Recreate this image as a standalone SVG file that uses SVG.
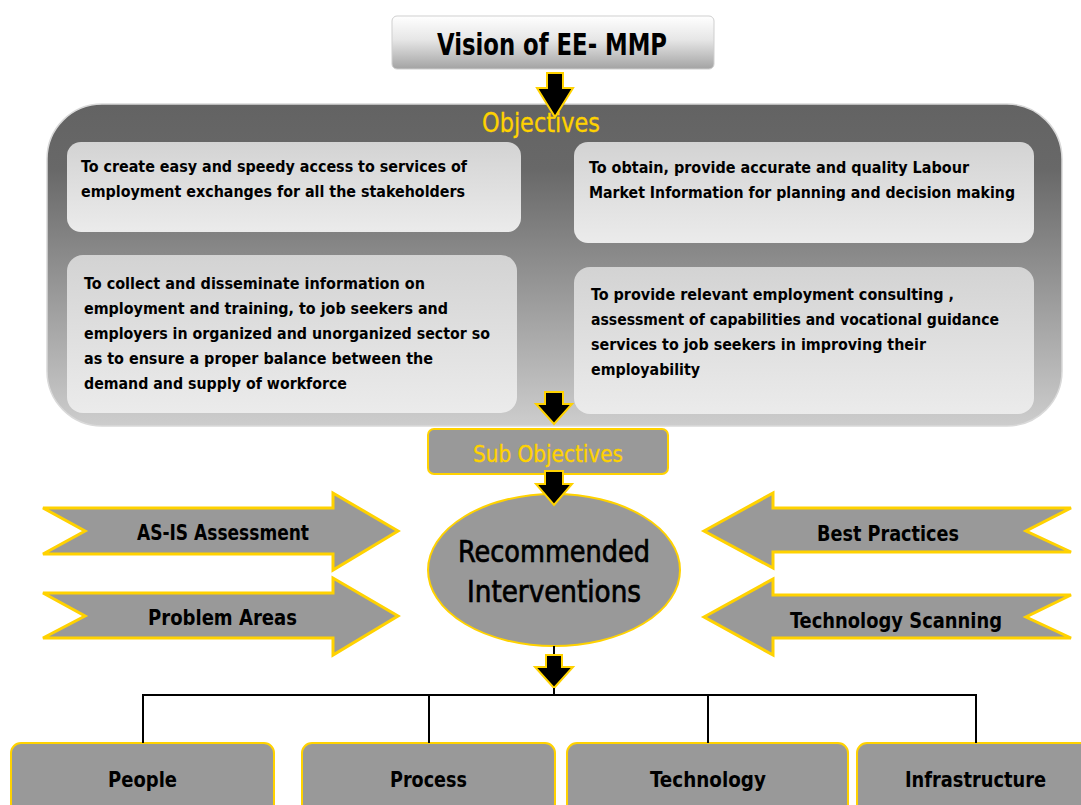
<svg xmlns="http://www.w3.org/2000/svg" width="1081" height="805" viewBox="0 0 1081 805">
<defs>
<linearGradient id="gVision" x1="0" y1="0" x2="0" y2="1">
<stop offset="0" stop-color="#ffffff"/><stop offset="0.45" stop-color="#e6e6e6"/><stop offset="1" stop-color="#a3a3a3"/>
</linearGradient>
<linearGradient id="gPanel" x1="0" y1="0" x2="0" y2="1">
<stop offset="0" stop-color="#636363"/><stop offset="0.2" stop-color="#686868"/><stop offset="1" stop-color="#cdcdcd"/>
</linearGradient>
<linearGradient id="gBox" x1="0" y1="0" x2="0" y2="1">
<stop offset="0" stop-color="#d3d3d3"/><stop offset="1" stop-color="#ebebeb"/>
</linearGradient>
<style>
.t{font-family:"DejaVu Sans Condensed","DejaVu Sans",sans-serif;font-stretch:condensed;font-weight:bold;fill:#000}
.r{font-family:"DejaVu Sans Condensed","DejaVu Sans",sans-serif;font-stretch:condensed;fill:#000;stroke:#000;stroke-width:0.7}
.y{font-family:"DejaVu Sans Condensed","DejaVu Sans",sans-serif;font-stretch:condensed;fill:#ffd200;stroke:#ffd200;stroke-width:0.3}
.b{font-size:16.5px}
.g{fill:#999999;stroke:#ffd200;stroke-width:2}
.ga{fill:#999999;stroke:#ffd200;stroke-width:3;stroke-linejoin:miter}
.ib{fill:url(#gBox)}
.arr{fill:#000;stroke:#ffd200;stroke-width:2;stroke-linejoin:miter}
.ln{stroke:#000;stroke-width:2;fill:none}
</style>
</defs>

<g id="vision">
<rect x="392" y="16" width="322" height="53" rx="5" fill="url(#gVision)" stroke="#cfcfcf" stroke-width="1"/>
<text class="t" x="437" y="55" font-size="30" textLength="230" lengthAdjust="spacingAndGlyphs">Vision of EE- MMP</text>
</g>

<g id="objectives">
<rect x="47" y="104" width="1015" height="322" rx="55" fill="url(#gPanel)" stroke="#d9d9d9" stroke-width="1.5"/>
<text class="y" x="482" y="132" font-size="27" textLength="118" lengthAdjust="spacingAndGlyphs">Objectives</text>
</g>

<g id="obj1">
<rect class="ib" x="67" y="142" width="454" height="90" rx="14"/>
<text class="t b" x="81" y="172" textLength="386" lengthAdjust="spacingAndGlyphs">To create easy and speedy access to services of</text>
<text class="t b" x="81" y="197" textLength="384" lengthAdjust="spacingAndGlyphs">employment exchanges for all the stakeholders</text>
</g>

<g id="obj2">
<rect class="ib" x="574" y="142" width="460" height="101" rx="14"/>
<text class="t b" x="589" y="173" textLength="380" lengthAdjust="spacingAndGlyphs">To obtain, provide accurate and quality Labour</text>
<text class="t b" x="589" y="198" textLength="426" lengthAdjust="spacingAndGlyphs">Market Information for planning and decision making</text>
</g>

<g id="obj3">
<rect class="ib" x="67" y="255" width="450" height="158" rx="16"/>
<text class="t b" x="84" y="289" textLength="341" lengthAdjust="spacingAndGlyphs">To collect and disseminate information on</text>
<text class="t b" x="84" y="314" textLength="364" lengthAdjust="spacingAndGlyphs">employment and training, to job seekers and</text>
<text class="t b" x="84" y="339" textLength="406" lengthAdjust="spacingAndGlyphs">employers in organized and unorganized sector so</text>
<text class="t b" x="84" y="364" textLength="349" lengthAdjust="spacingAndGlyphs">as to ensure a proper balance between the</text>
<text class="t b" x="84" y="389" textLength="263" lengthAdjust="spacingAndGlyphs">demand and supply of workforce</text>
</g>

<g id="obj4">
<rect class="ib" x="574" y="267" width="460" height="147" rx="16"/>
<text class="t b" x="591" y="300" textLength="363" lengthAdjust="spacingAndGlyphs">To provide relevant employment consulting ,</text>
<text class="t b" x="591" y="325" textLength="408" lengthAdjust="spacingAndGlyphs">assessment of capabilities and vocational guidance</text>
<text class="t b" x="591" y="350" textLength="335" lengthAdjust="spacingAndGlyphs">services to job seekers in improving their</text>
<text class="t b" x="591" y="375" textLength="109" lengthAdjust="spacingAndGlyphs">employability</text>
</g>

<g id="subobjectives">
<rect class="g" x="428" y="429" width="240" height="45" rx="6"/>
<text class="y" x="473" y="462" font-size="23" textLength="150" lengthAdjust="spacingAndGlyphs">Sub Objectives</text>
</g>

<g id="recommended">
<ellipse class="g" cx="554" cy="570" rx="126" ry="76"/>
<text class="r" x="458" y="562" font-size="31" textLength="192" lengthAdjust="spacingAndGlyphs">Recommended</text>
<text class="r" x="467" y="602" font-size="31" textLength="174" lengthAdjust="spacingAndGlyphs">Interventions</text>
</g>

<g id="asis">
<polygon class="ga" points="43,508 333,508 333,493 398,531 333,570 333,554 43,554 85,531"/>
<text class="t" x="137" y="540" font-size="22" textLength="172" lengthAdjust="spacingAndGlyphs">AS-IS Assessment</text>
</g>
<g id="problem">
<polygon class="ga" points="43,593 333,593 333,578 398,616 333,655 333,638 43,638 85,616"/>
<text class="t" x="148" y="625" font-size="22" textLength="149" lengthAdjust="spacingAndGlyphs">Problem Areas</text>
</g>
<g id="best">
<polygon class="ga" points="704,531 773,493 773,508 1071,508 1026,531 1071,552 773,552 773,568"/>
<text class="t" x="817" y="541" font-size="22" textLength="142" lengthAdjust="spacingAndGlyphs">Best Practices</text>
</g>
<g id="techscan">
<polygon class="ga" points="704,617 773,579 773,595 1071,595 1026,617 1071,638 773,638 773,655"/>
<text class="t" x="790" y="628" font-size="22" textLength="212" lengthAdjust="spacingAndGlyphs">Technology Scanning</text>
</g>

<g id="people">
<rect class="g" x="11" y="743" width="263" height="80" rx="10"/>
<text class="t" x="108" y="787" font-size="22" textLength="69" lengthAdjust="spacingAndGlyphs">People</text>
</g>
<g id="process">
<rect class="g" x="302" y="743" width="253" height="80" rx="10"/>
<text class="t" x="390" y="787" font-size="22" textLength="77" lengthAdjust="spacingAndGlyphs">Process</text>
</g>
<g id="technology">
<rect class="g" x="567" y="743" width="281" height="80" rx="10"/>
<text class="t" x="650" y="787" font-size="22" textLength="116" lengthAdjust="spacingAndGlyphs">Technology</text>
</g>
<g id="infrastructure">
<rect class="g" x="857" y="743" width="240" height="80" rx="10"/>
<text class="t" x="905" y="787" font-size="22" textLength="141" lengthAdjust="spacingAndGlyphs">Infrastructure</text>
</g>

<g id="connectors">
<polygon class="arr" points="547,73 563,73 563,88 573,88 555,117 537,88 547,88"/>
<polygon class="arr" points="545,392 563,392 563,404 572,404 554,424 536,404 545,404"/>
<polygon class="arr" points="545,471 563,471 563,484 572,484 554,505 536,484 545,484"/>
<line class="ln" x1="554" y1="646" x2="554" y2="656"/>
<polygon class="arr" points="546,655 562,655 562,667 573,667 554,688 535,667 546,667"/>
<line class="ln" x1="554" y1="688" x2="554" y2="695"/>
<polyline class="ln" points="143,743 143,695 976,695 976,743"/>
<line class="ln" x1="429" y1="695" x2="429" y2="743"/>
<line class="ln" x1="708" y1="695" x2="708" y2="743"/>
</g>
</svg>
